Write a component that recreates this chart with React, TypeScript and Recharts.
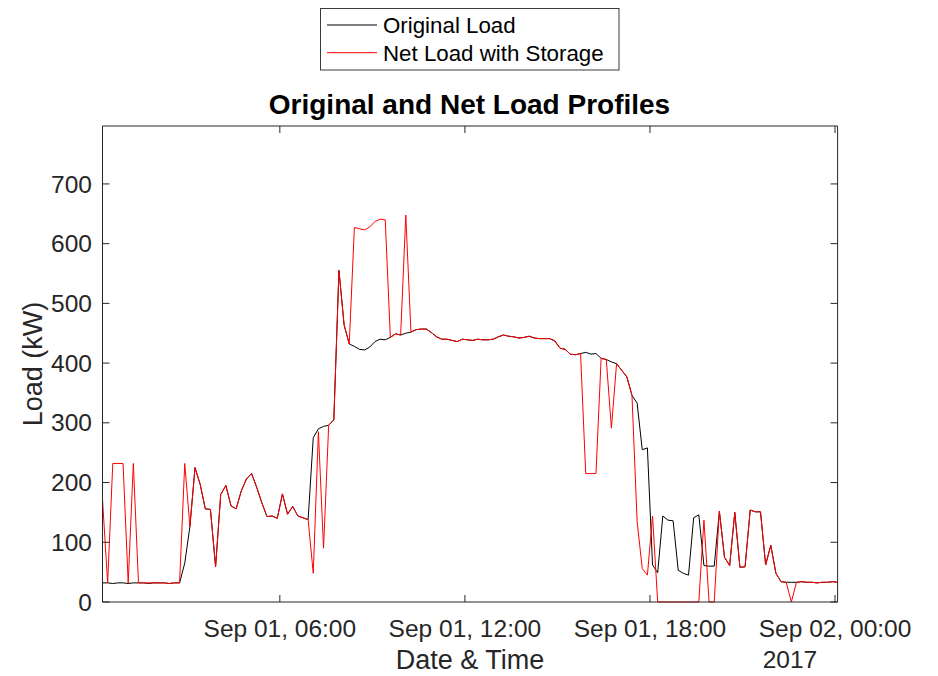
import { LineChart, Line, XAxis, YAxis, ReferenceLine } from "recharts"

const SERIES_NAMES = ["Original Load", "Net Load with Storage"]
const SERIES_COLORS = ["#000000", "#ff0000"]

// minutes after Sep 01 00:00, one sample every 10 min
const minutes = Array.from({ length: 144 }, (_, i) => 15 + i * 10)

const originalLoad = [
  32, 32, 31, 32, 32, 31, 32, 32, 32, 31, 32, 32, 32, 31, 32, 32,
  65, 126, 225, 197, 156, 155, 59, 180, 195, 161, 156, 186, 206, 215,
  192, 166, 143, 144, 140, 181, 147, 160, 144, 141, 138, 275, 290, 294,
  296, 305, 555, 464, 432, 428, 423, 422, 427, 436, 440, 439, 443, 449,
  447, 450, 452, 456, 457, 457, 451, 444, 440, 440, 438, 436, 440, 439,
  438, 440, 439, 439, 440, 444, 447, 445, 444, 442, 443, 445, 442, 441,
  441, 441, 437, 425, 423, 415, 414, 416, 418, 415, 416, 408, 406, 402,
  399, 388, 377, 346, 333, 255, 258, 62, 49, 144, 137, 136, 53, 48,
  45, 141, 146, 61, 60, 60, 152, 75, 61, 150, 58, 59, 154, 151,
  151, 62, 95, 48, 34, 33, 33, 33, 34, 33, 33, 32, 33, 33, 34, 33,
]

const netLoad = [
  172, 32, 232, 232, 232, 32, 232, 32, 32, 32, 32, 32, 32, 31, 32, 32,
  232, 126, 225, 197, 156, 155, 59, 180, 195, 161, 156, 186, 206, 215,
  192, 166, 143, 144, 140, 181, 147, 160, 144, 141, 138, 48, 285, 90,
  296, 305, 555, 464, 432, 627, 625, 623, 628, 637, 641, 640, 443, 449,
  447, 648, 452, 456, 457, 457, 451, 444, 440, 440, 438, 436, 440, 439,
  438, 440, 439, 439, 440, 444, 447, 445, 444, 442, 443, 445, 442, 441,
  441, 441, 437, 425, 423, 415, 414, 416, 215, 215, 215, 408, 406, 291,
  399, 388, 377, 346, 135, 56, 45, 144, 0, 0, 0, 0, 0, 0,
  0, 0, 0, 137, 0, 0, 152, 75, 61, 150, 58, 59, 154, 151,
  151, 62, 95, 48, 34, 33, 0, 33, 34, 33, 33, 32, 33, 33, 34, 33,
]

const xTicks = [360, 720, 1080, 1440]
const xTickLabels = ["Sep 01, 06:00", "Sep 01, 12:00", "Sep 01, 18:00", "Sep 02, 00:00"]
const yTicks = [0, 100, 200, 300, 400, 500, 600, 700]

const W = 938
const H = 676
const PLOT_LEFT = 102.5
const PLOT_TOP = 126
const PLOT_RIGHT = 837.6
const PLOT_BOTTOM = 602
const TICK_LEN = 7
const AXIS_COLOR = "#262626"
const FONT = "'Liberation Sans', Arial, Helvetica, sans-serif"

const data = minutes.map((m, i) => ({
  m,
  original: originalLoad[i],
  net: netLoad[i],
}))

function XTick({ x, payload }: any) {
  const idx = xTicks.indexOf(payload.value)
  return (
    <g>
      <line x1={x} x2={x} y1={PLOT_BOTTOM} y2={PLOT_BOTTOM - TICK_LEN} stroke={AXIS_COLOR} />
      <line x1={x} x2={x} y1={PLOT_TOP} y2={PLOT_TOP + TICK_LEN} stroke={AXIS_COLOR} />
      <text x={x} y={637} textAnchor="middle" fontSize={24.5} fill={AXIS_COLOR} fontFamily={FONT}>
        {xTickLabels[idx]}
      </text>
    </g>
  )
}

function YTick({ y, payload }: any) {
  return (
    <g>
      <line x1={PLOT_LEFT} x2={PLOT_LEFT + TICK_LEN} y1={y} y2={y} stroke={AXIS_COLOR} />
      <line x1={PLOT_RIGHT - TICK_LEN} x2={PLOT_RIGHT} y1={y} y2={y} stroke={AXIS_COLOR} />
      <text x={92} y={y} dy="0.35em" textAnchor="end" fontSize={24.5} fill={AXIS_COLOR} fontFamily={FONT}>
        {payload.value}
      </text>
    </g>
  )
}

export default function App() {
  return (
    <div style={{ position: "absolute", left: 0, top: 0, width: W, height: H, background: "#fff" }}>
      <LineChart
        width={W}
        height={H}
        data={data}
        margin={{ top: PLOT_TOP, right: W - PLOT_RIGHT, bottom: 0, left: 0 }}
      >
        <XAxis
          dataKey="m"
          type="number"
          domain={[15, 1445]}
          ticks={xTicks}
          interval={0}
          height={H - PLOT_BOTTOM}
          tickSize={0}
          tickLine={false}
          axisLine={{ stroke: AXIS_COLOR }}
          tick={<XTick />}
        />
        <YAxis
          type="number"
          domain={[0, 797]}
          ticks={yTicks}
          interval={0}
          width={PLOT_LEFT}
          tickSize={0}
          tickLine={false}
          axisLine={{ stroke: AXIS_COLOR }}
          tick={<YTick />}
        />
        <ReferenceLine y={797} stroke={AXIS_COLOR} />
        <ReferenceLine x={1445} stroke={AXIS_COLOR} />
        <Line
          type="linear"
          dataKey="original"
          name={SERIES_NAMES[0]}
          stroke={SERIES_COLORS[0]}
          strokeWidth={1}
          dot={false}
          isAnimationActive={false}
        />
        <Line
          type="linear"
          dataKey="net"
          name={SERIES_NAMES[1]}
          stroke={SERIES_COLORS[1]}
          strokeWidth={1}
          dot={false}
          isAnimationActive={false}
        />
      </LineChart>
      <svg
        width={W}
        height={H}
        style={{ position: "absolute", left: 0, top: 0, pointerEvents: "none" }}
        fontFamily={FONT}
      >
        <text x={469.5} y={114} textAnchor="middle" fontSize={28} fontWeight="bold" fill="#000">
          Original and Net Load Profiles
        </text>
        <text x={470} y={669} textAnchor="middle" fontSize={27} fill={AXIS_COLOR}>
          Date &amp; Time
        </text>
        <text x={790} y={668} textAnchor="middle" fontSize={24.5} fill={AXIS_COLOR}>
          2017
        </text>
        <text
          transform="translate(42, 364) rotate(-90)"
          textAnchor="middle"
          fontSize={27}
          fill={AXIS_COLOR}
        >
          Load (kW)
        </text>
        <rect x={320.5} y={8.5} width={298.5} height={61.5} fill="#fff" stroke="#3a3a3a" />
        {SERIES_NAMES.map((name, i) => (
          <g key={name}>
            <line
              x1={327}
              x2={377}
              y1={25 + i * 27.7}
              y2={25 + i * 27.7}
              stroke={SERIES_COLORS[i]}
              strokeWidth={1}
            />
            <text x={383} y={33 + i * 27.7} fontSize={22.3} fill="#000">
              {name}
            </text>
          </g>
        ))}
      </svg>
    </div>
  )
}
